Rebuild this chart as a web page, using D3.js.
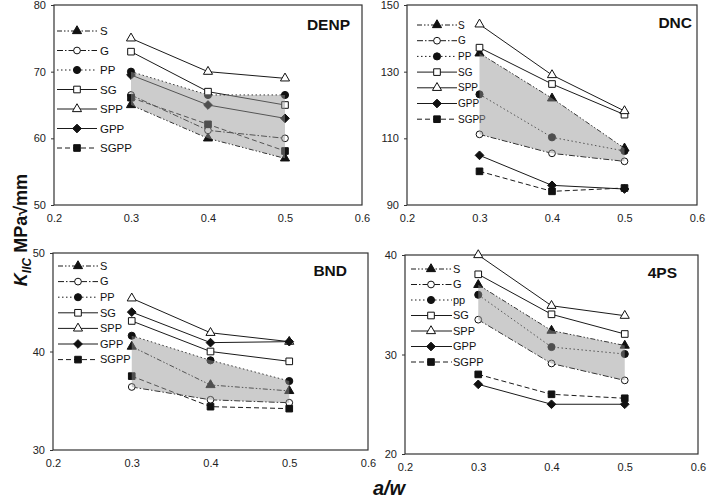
<!DOCTYPE html>
<html><head><meta charset="utf-8">
<script src="https://cdn.jsdelivr.net/npm/d3@7"></script>
<style>body{margin:0;background:#fff}svg{display:block}text{font-family:"Liberation Sans",Arial,sans-serif}</style>
</head><body>
<svg id="c" width="707" height="500"></svg>
<script>
const awValues = [0.3, 0.4, 0.5];
const xTicks = [0.2, 0.3, 0.4, 0.5, 0.6];
const seriesNames = ["S","G","PP","SG","SPP","GPP","SGPP"];
const legendLabelsStd = ["S","G","PP","SG","SPP","GPP","SGPP"];
const legendLabels4PS = ["S","G","pp","SG","SPP","GPP","SGPP"];
const panelTitles = ["DENP","DNC","BND","4PS"];
const denpValues = [[65,60,57],[66.5,61.2,60],[70,66.5,66.5],[73,67,65],[75,70,69],[69.5,65,63],[66.1,62.1,58.1]];
const dncValues = [[135.5,122,107],[111.2,105.5,103.1],[123.2,110.3,106.2],[137.2,126.3,117.1],[144.2,129,118.2],[104.9,95.9,94.8],[100.1,94.1,95.1]];
const bndValues = [[40.5,36.6,36.0],[36.4,35.1,34.8],[41.6,39.1,37.0],[43.1,40,39],[45.4,41.9,41],[44,40.9,41],[37.5,34.4,34.2]];
const fourPSValues = [[37,32.4,30.9],[33.5,29.1,27.4],[36,30.75,30.05],[38.06,34.04,32.06],[40,34.9,33.9],[27,25,25],[28,26,25.6]];
const denpYTicks = [50,60,70,80];
const dncYTicks = [90,110,130,150];
const bndYTicks = [30,40,50];
const fourPSYTicks = [20,30,40];
const shadeBounds = [["PP","S"],["S","G"],["PP","G"],["S","G"]];

const symbolRhombus = {draw(ctx, size){ const h = Math.sqrt(size/2);
  ctx.moveTo(0,-h); ctx.lineTo(h,0); ctx.lineTo(0,h); ctx.lineTo(-h,0); ctx.closePath(); }};

const styles = {
  S:   {dash:"5,2,1.5,2,1.5,2", sym:d3.symbolTriangle, size:36, fill:"#111"},
  G:   {dash:"6,2,1.5,2",       sym:d3.symbolCircle,   size:36, fill:"#fff"},
  PP:  {dash:"1.5,2.5",         sym:d3.symbolCircle,   size:40, fill:"#111"},
  SG:  {dash:null,              sym:d3.symbolSquare,   size:44, fill:"#fff"},
  SPP: {dash:null,              sym:d3.symbolTriangle, size:36, fill:"#fff"},
  GPP: {dash:null,              sym:symbolRhombus,     size:38, fill:"#111"},
  SGPP:{dash:"5,3",             sym:d3.symbolSquare,   size:44, fill:"#111"}
};

const panels = [
  {values:denpValues, yTicks:denpYTicks, labels:legendLabelsStd, box:{l:54,r:362,t:5,b:205},
   legend:{x0:57,x1:97,mx:77,tx:100,y0:31,dy:19.5,fs:11.5}, tpos:[350,30]},
  {values:dncValues, yTicks:dncYTicks, labels:legendLabelsStd, box:{l:407,r:697,t:5,b:205},
   legend:{x0:417,x1:457,mx:437,tx:458,y0:25,dy:15.7,fs:10}, tpos:[692,28]},
  {values:bndValues, yTicks:bndYTicks, labels:legendLabelsStd, box:{l:53,r:368,t:253,b:450},
   legend:{x0:58,x1:98,mx:78,tx:100,y0:266,dy:15.6,fs:11}, tpos:[347,276]},
  {values:fourPSValues, yTicks:fourPSYTicks, labels:legendLabels4PS, box:{l:405,r:698,t:255,b:454},
   legend:{x0:411,x1:452,mx:431,tx:453,y0:269,dy:15.5,fs:11}, tpos:[677,278]}
];

const svg = d3.select("#c");
svg.append("rect").attr("width",707).attr("height",500).attr("fill","#fff");

panels.forEach((p, pi) => {
  const b = p.box;
  const x = d3.scaleLinear().domain([0.2,0.6]).range([b.l,b.r]);
  const y = d3.scaleLinear().domain(d3.extent(p.yTicks)).range([b.b,b.t]);
  const g = svg.append("g");

  g.append("rect").attr("x",b.l).attr("y",b.t).attr("width",b.r-b.l).attr("height",b.b-b.t)
    .attr("fill","#fff").attr("stroke","#333").attr("stroke-width",1.2);

  const ya = g.append("g").attr("transform",`translate(${b.l},0)`)
    .call(d3.axisLeft(y).tickValues(p.yTicks).tickSize(3).tickSizeOuter(0).tickPadding(5));
  ya.select(".domain").remove();
  ya.selectAll("line").attr("stroke","#333");
  ya.selectAll("text").attr("font-size",11).attr("fill","#222").style("font-family","'Liberation Sans',Arial,sans-serif");

  const xa = g.append("g").attr("transform",`translate(0,${b.b})`)
    .call(d3.axisBottom(x).tickValues(xTicks).tickFormat(d3.format(".1f")).tickSize(0).tickPadding(9));
  xa.select(".domain").remove();
  xa.selectAll("text").attr("font-size",11).attr("fill","#222").style("font-family","'Liberation Sans',Arial,sans-serif");

  const line = d3.line().x((d,i)=>x(awValues[i])).y(d=>y(d));

  seriesNames.forEach((name, si) => {
    const st = styles[name];
    const vals = p.values[si];
    g.append("path").attr("d", line(vals)).attr("fill","none").attr("stroke","#1a1a1a")
      .attr("stroke-width",1).attr("stroke-dasharray", st.dash);
    g.selectAll(null).data(vals).enter().append("path")
      .attr("d", d3.symbol().type(st.sym).size(st.size))
      .attr("transform",(d,i)=>`translate(${x(awValues[i])},${y(d)})`)
      .attr("fill", st.fill).attr("stroke","#111").attr("stroke-width",1);
  });

  const L = p.legend;
  seriesNames.forEach((name, si) => {
    const st = styles[name];
    const ly = L.y0 + si*L.dy;
    g.append("line").attr("x1",L.x0).attr("x2",L.x1).attr("y1",ly).attr("y2",ly)
      .attr("stroke","#1a1a1a").attr("stroke-width",1).attr("stroke-dasharray", st.dash);
    g.append("path").attr("d", d3.symbol().type(st.sym).size(st.size))
      .attr("transform",`translate(${L.mx},${ly})`)
      .attr("fill", st.fill).attr("stroke","#111").attr("stroke-width",1);
    g.append("text").attr("x",L.tx).attr("y",ly).attr("dy","0.35em")
      .attr("font-size",L.fs).attr("fill","#111").text(p.labels[si]);
  });

  const up = p.values[seriesNames.indexOf(shadeBounds[pi][0])];
  const lo = p.values[seriesNames.indexOf(shadeBounds[pi][1])];
  const area = d3.area().x((d,i)=>x(awValues[i])).y0((d,i)=>y(lo[i])).y1((d,i)=>y(up[i]));
  g.append("path").attr("d", area(up)).attr("fill","#959595").attr("fill-opacity",0.48);

  g.append("text").attr("x",p.tpos[0]).attr("y",p.tpos[1]).attr("text-anchor","end")
    .attr("font-size",15.5).attr("font-weight","bold").attr("fill","#111").text(panelTitles[pi]);
});

const yl = svg.append("text").attr("transform","translate(27,230) rotate(-90)")
  .attr("text-anchor","middle").attr("font-size",18).attr("font-weight","bold").attr("fill","#111");
yl.append("tspan").attr("font-style","italic").text("K");
yl.append("tspan").attr("font-style","italic").attr("font-size",12).attr("dy",4).text("IIC");
yl.append("tspan").attr("dy",-4).text(" MPa\u221Amm");

svg.append("text").attr("x",389).attr("y",495).attr("text-anchor","middle")
  .attr("font-size",20).attr("font-weight","bold").attr("font-style","italic").attr("fill","#111").text("a/w");
</script>
</body></html>
